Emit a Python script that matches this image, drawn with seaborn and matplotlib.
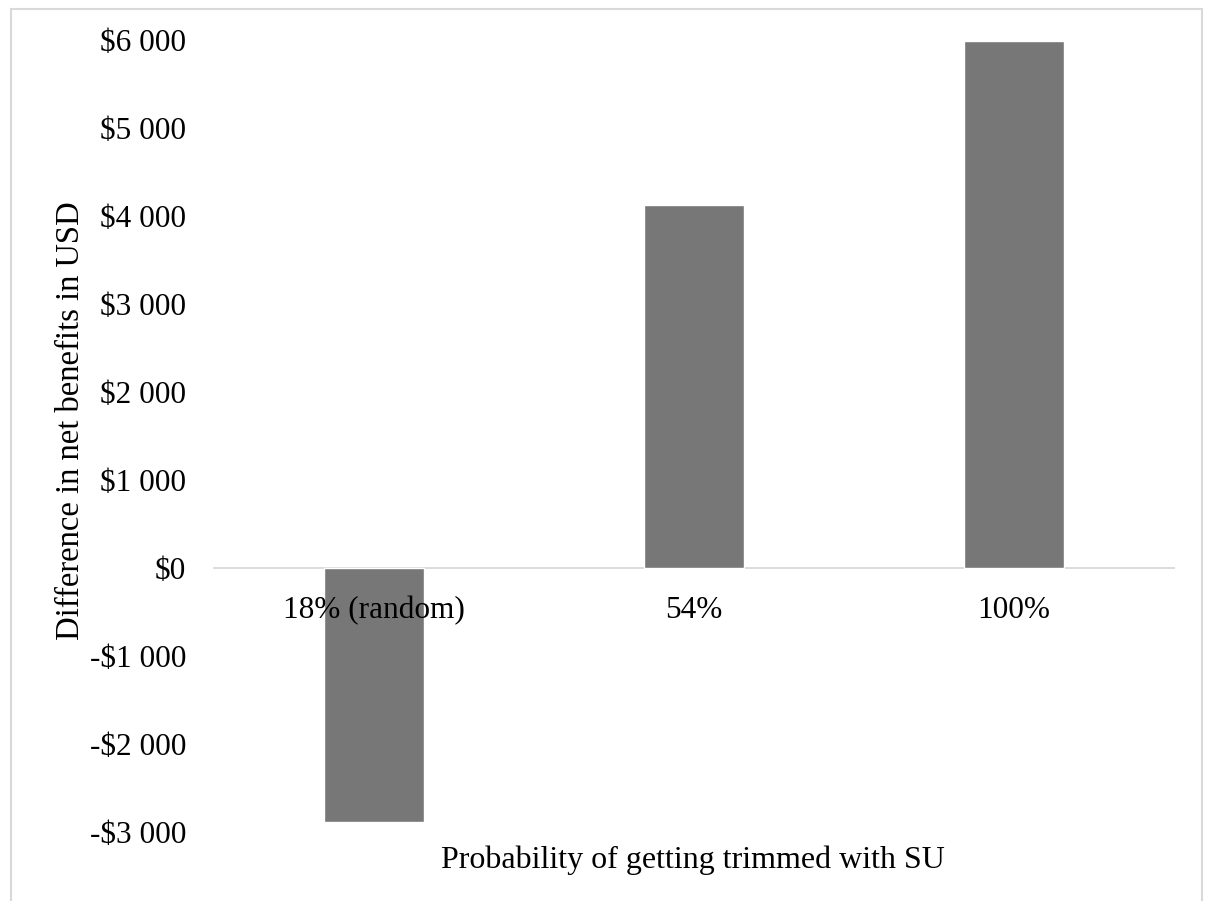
import matplotlib
matplotlib.use("Agg")
import matplotlib.pyplot as plt
from matplotlib.patches import Rectangle
from matplotlib.ticker import FuncFormatter, MultipleLocator
import seaborn as sns
import pandas as pd

# Data
categories = ["18% (random)", "54%", "100%"]
net_benefit_diff = [-2890, 4130, 5990]
x_title = "Probability of getting trimmed with SU"
y_title = "Difference in net benefits in USD"

sns.set_theme(style="white")
plt.rcParams["font.family"] = ["Liberation Serif", "DejaVu Serif"]

W, H = 1205, 901
fig = plt.figure(figsize=(W / 100, H / 100), dpi=100)
fig.patch.set_facecolor("white")

# plot area in pixels: x 214..1174, y 40..832 (top-down)
left, right, top, bottom = 214, 1174, 40, 832
ax = fig.add_axes([left / W, 1 - bottom / H, (right - left) / W, (bottom - top) / H])

df = pd.DataFrame({"cat": categories, "val": net_benefit_diff})
sns.barplot(data=df, x="cat", y="val", order=categories, color="#777777",
            saturation=1, width=0.31, ax=ax)

ax.set_xlim(-0.5, len(categories) - 0.5)
ax.set_ylim(-3000, 6000)
ax.yaxis.set_major_locator(MultipleLocator(1000))


def money(v, pos):
    v = int(round(v))
    s = f"{abs(v):,}".replace(",", " ")
    return ("-$" if v < 0 else "$") + s


ax.yaxis.set_major_formatter(FuncFormatter(money))

# category labels sit on the zero line and are drawn over the bars
ax.set_axisbelow(False)
for s in ["top", "right", "left"]:
    ax.spines[s].set_visible(False)
ax.spines["bottom"].set_position(("data", 0))
ax.spines["bottom"].set_color("#d9d9d9")
ax.spines["bottom"].set_linewidth(1.3)
ax.spines["bottom"].set_zorder(0)

ax.tick_params(axis="x", length=0, pad=20, labelsize=22.5, colors="black")
ax.tick_params(axis="y", length=0, pad=20, labelsize=22.5, colors="black")
ax.set_xlabel("")
ax.set_ylabel("")
ax.grid(False)

fig.text(71 / W, 1 - 421 / H, y_title, rotation=90, ha="center", va="center",
         fontsize=23.5, color="black")
fig.text(693 / W, 1 - 860 / H, x_title, ha="center", va="center",
         fontsize=23, color="black")

# light chart-area border
fig.patches.append(Rectangle((11 / W, -0.05), (1202 - 11) / W, 1.05 - 9 / H,
                             transform=fig.transFigure, fill=False,
                             edgecolor="#d9d9d9", linewidth=1.5))

fig.savefig("out.png", dpi=100, facecolor="white")
